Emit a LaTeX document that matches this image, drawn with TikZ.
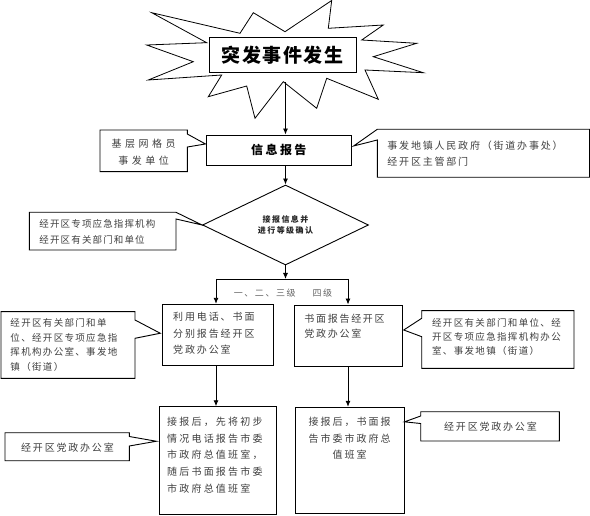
\documentclass[tikz,border=0pt]{standalone}
\usepackage{fontspec}
\setmainfont{Noto Sans CJK SC}
\usetikzlibrary{shapes.geometric,arrows.meta,calc}
\newcommand{\fsz}[3]{\fontsize{#1}{#2}\selectfont\addfontfeatures{LetterSpace=#3}}
\definecolor{txt}{HTML}{404040}
\begin{document}
\begin{tikzpicture}[x=1pt,y=-1pt,line width=0.9pt,
  >={Latex[length=6pt,width=5pt]},
  box/.style={draw,rectangle,inner sep=0pt,fill=white},
  btext/.style={inner sep=0pt,anchor=north west,align=left,text=txt},
  ctext/.style={inner sep=0pt,align=center,text=txt},
  callout/.style={draw,fill=white,line width=0.9pt,line join=miter}]
\useasboundingbox (0,0) rectangle (590,516);
\coordinate (axis) at (285.5,0);
\coordinate (starbot) at (285.5,82.5);

% explosion
\draw[fill=white,line width=0.8pt] (151.7,12.7) -- (240,33.3) -- (253.3,12.7) -- (285,31.7) -- (331.7,0.5) -- (328.3,28.3) -- (383.3,25) -- (361.7,40) -- (416.7,43.3) -- (373.3,56.7) -- (423.3,72.7) -- (365,70) -- (378.3,99.3) -- (326.7,78.3) -- (316.7,108.3) -- (283.3,81.7) -- (255,118.3) -- (246.7,86) -- (208.3,96.7) -- (221.7,75) -- (148.3,80) -- (193.3,61.7) -- (146.7,45) -- (206.7,42.7) -- cycle;
\node[box,minimum width=146.7pt,minimum height=35.4pt,font=\bfseries\fsz{19}{22}{8}] (title) at (282.7,55) {突发事件发生};

% info
\node[box,minimum width=145.7pt,minimum height=30pt,font=\bfseries\fsz{12}{14}{20}] (info) at (278.8,150) {信息报告};

% diamond
\node[draw,diamond,minimum width=166pt,minimum height=80pt,inner sep=0pt,align=center,text=black!85,font=\bfseries\fsz{8}{14.3}{18}] (dia) at (285.5,225) {接报信息并\\[-3pt]进行等级确认};

% level boxes
\node[box,minimum width=110.6pt,minimum height=60.7pt] (left2) at (218,334.65) {};
\node[box,minimum width=108.7pt,minimum height=61pt] (right2) at (348.35,335.5) {};
\node[box,minimum width=116.7pt,minimum height=107.3pt] (left3) at (217.65,460.35) {};
\node[box,minimum width=109pt,minimum height=106pt] (right3) at (349.5,460.3) {};

\node[btext,font=\fsz{10}{16.7}{19}] (left2t) at (172.7,311.7) {利用电话、书面\\分别报告经开区\\党政办公室};
\node[btext,font=\fsz{10}{15}{17}] (right2t) at (304,313.3) {书面报告经开区\\党政办公室};
\node[btext,font=\fsz{10}{16.65}{22}] (left3t) at (166.7,416.7) {接报后，先将初步\\情况电话报告市委\\市政府总值班室，\\随后书面报告市委\\市政府总值班室};
\node[ctext,anchor=north,font=\fsz{10}{16.65}{20}] (right3t) at (349.5,416.7) {接报后，书面报\\告市委市政府总\\值班室};

% connectors
\coordinate (bc) at (285.5,279);
\coordinate (bl) at (216,279);
\coordinate (br) at (348,279);
\draw[->] (starbot) -- (info.north -| axis);
\draw[->] (info.south -| axis) -- (dia.north);
\draw[->] (dia.south) -- (bc);
\draw (bl) -- (br);
\draw[->] (bl) -- (left2.north -| bl);
\draw[->] (br) -- (right2.north -| br);
\draw[->] (left2.south -| bl) -- (left3.north -| bl);
\draw[->] (right2.south -| br) -- (right3.north -| br);
\node[ctext,text=black!60,font=\fsz{9}{11}{17}] (lvl) at (283,292.7) {一、二、三级\hspace{17pt}四级};

% callouts
\draw[callout] (100,130) -- (187.3,130) -- (187.3,134) -- ([yshift=6pt]info.west) -- (187.3,147) -- (187.3,171.7) -- (100,171.7) -- cycle;
\node[ctext,font=\fsz{10}{16.7}{35}] (c1t) at (143.7,152.3) {基层网格员\\事发单位};

\draw[callout] (377.3,129.3) -- (589.5,129.3) -- (589.5,177.3) -- (377.3,177.3) -- (377.3,140) -- ([xshift=1.5pt,yshift=4pt]info.east) -- cycle;
\node[btext,font=\fsz{10}{16.7}{18}] (c2t) at (387,140) {事发地镇人民政府（街道办事处）\\经开区主管部门};

\draw[callout] (29.3,212.3) -- (176,212.3) -- (dia.west) -- (176,219) -- (176,250) -- (29.3,250) -- cycle;
\node[btext,font=\fsz{9.5}{16}{12}] (c3t) at (39,218.5) {经开区专项应急指挥机构\\经开区有关部门和单位};

\draw[callout] (1,311.7) -- (135,311.7) -- (135,320) -- ([xshift=-2pt,yshift=1.4pt]left2.west) -- (135,338.3) -- (135,378.3) -- (1,378.3) -- cycle;
\node[btext,font=\fsz{9.5}{14.5}{14}] (c4t) at (10,318.5) {经开区有关部门和单\\位、经开区专项应急指\\挥机构办公室、事发地\\镇（街道）};

\draw[callout] (421.7,310.7) -- (574,310.7) -- (574,368.3) -- (421.7,368.3) -- (421.7,336.7) -- ([xshift=0.6pt,yshift=5.5pt]right2.east) -- (421.7,318.3) -- cycle;
\node[btext,font=\fsz{9.5}{14.2}{14}] (c5t) at (431.7,318) {经开区有关部门和单位、经\\开区专项应急指挥机构办公\\室、事发地镇（街道）};

\draw[callout] (5,432.7) -- (129.3,432.7) -- (129.3,436.5) -- ([xshift=-2.5pt,yshift=-35pt]left3.north west) -- (129.3,446) -- (129.3,460.7) -- (5,460.7) -- cycle;
\node[ctext,font=\fsz{10}{12}{18}] (c6t) at (67.5,447.3) {经开区党政办公室};

\draw[callout] (420.7,411.7) -- (559.3,411.7) -- (559.3,441) -- (420.7,441) -- (420.7,423.5) -- ([yshift=-15pt]right3.north east) -- (420.7,416) -- cycle;
\node[ctext,font=\fsz{10}{12}{18}] (c7t) at (490.5,426.7) {经开区党政办公室};
\end{tikzpicture}
\end{document}
